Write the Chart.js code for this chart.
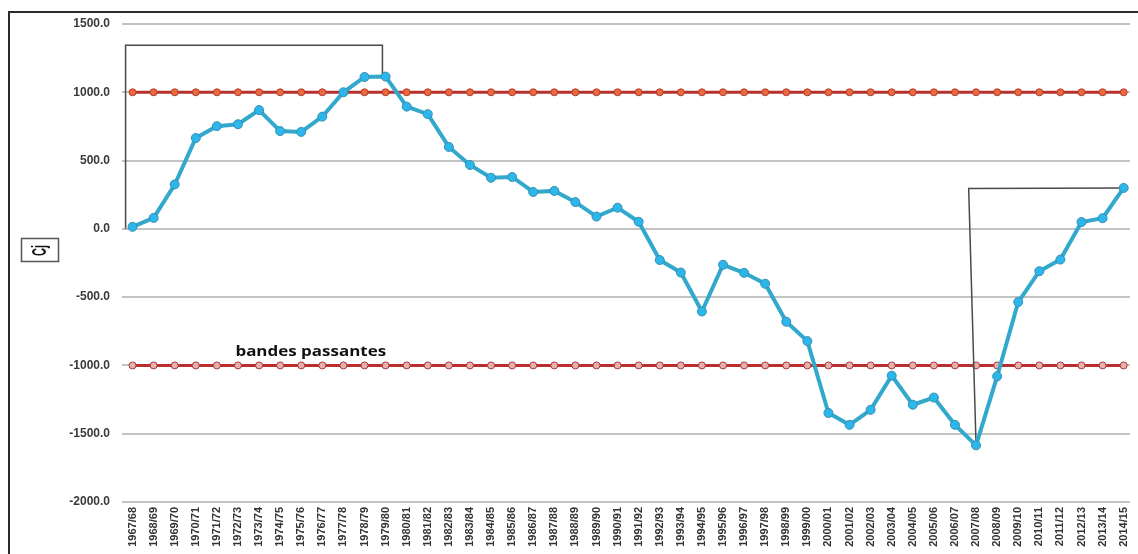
<!DOCTYPE html>
<html>
<head>
<meta charset="utf-8">
<script src="https://cdn.jsdelivr.net/npm/chart.js@4/dist/chart.umd.min.js"></script>
<style>
  html, body { margin: 0; padding: 0; background: #fff; }
  #wrap { width: 1138px; height: 554px; position: relative; }
</style>
</head>
<body>
<div id="wrap"><canvas id="cjChart"></canvas></div>
<script>
// Campagnes (axe des x)
const seasons = [
    '1967/68', '1968/69', '1969/70', '1970/71', '1971/72', '1972/73', '1973/74', '1974/75',
    '1975/76', '1976/77', '1977/78', '1978/79', '1979/80', '1980/81', '1981/82', '1982/83',
    '1983/84', '1984/85', '1985/86', '1986/87', '1987/88', '1988/89', '1989/90', '1990/91',
    '1991/92', '1992/93', '1993/94', '1994/95', '1995/96', '1996/97', '1997/98', '1998/99',
    '1999/00', '2000/01', '2001/02', '2002/03', '2003/04', '2004/05', '2005/06', '2006/07',
    '2007/08', '2008/09', '2009/10', '2010/11', '2011/12', '2012/13', '2013/14', '2014/15'
];

// Cumul Cj
const cjValues = [
    15, 80, 325, 665, 752, 766, 870, 716,
    710, 822, 1000, 1112, 1115, 895, 840, 600,
    468, 374, 380, 270, 278, 196, 90, 155,
    52, -228, -320, -605, -263, -322, -402, -680,
    -822, -1348, -1435, -1325, -1075, -1288, -1235, -1435,
    -1585, -1080, -536, -310, -225, 50, 78, 300
];

// Bandes passantes (+1000 / -1000)
const upperBand = [
    1000, 1000, 1000, 1000, 1000, 1000, 1000, 1000, 1000, 1000, 1000, 1000,
    1000, 1000, 1000, 1000, 1000, 1000, 1000, 1000, 1000, 1000, 1000, 1000,
    1000, 1000, 1000, 1000, 1000, 1000, 1000, 1000, 1000, 1000, 1000, 1000,
    1000, 1000, 1000, 1000, 1000, 1000, 1000, 1000, 1000, 1000, 1000, 1000
];
const lowerBand = [
    -1000, -1000, -1000, -1000, -1000, -1000, -1000, -1000, -1000, -1000, -1000, -1000,
    -1000, -1000, -1000, -1000, -1000, -1000, -1000, -1000, -1000, -1000, -1000, -1000,
    -1000, -1000, -1000, -1000, -1000, -1000, -1000, -1000, -1000, -1000, -1000, -1000,
    -1000, -1000, -1000, -1000, -1000, -1000, -1000, -1000, -1000, -1000, -1000, -1000
];

// Crochets qui encadrent les deux phases (x en index de campagne)
const bracketWetX = [-0.33, -0.33, 11.85, 11.85];
const bracketWetY = [0, 1345, 1345, 1130];
const bracketDryX = [40, 39.65, 47];
const bracketDryY = [-1585, 295, 300];

// Graduations de l'axe des y
const yTicks = [1500, 1000, 500, 0, -500, -1000, -1500, -2000];

const toPoints = (xs, ys) => ys.map((y, i) => ({ x: xs ? xs[i] : i, y: y }));

// Cadre, étiquette "Cj" et texte "bandes passantes"
const decorPlugin = {
    id: 'decor',
    afterDraw(chart) {
        const ctx = chart.ctx;
        const x = chart.scales.x, y = chart.scales.y;
        ctx.save();

        // cadre noir (haut + gauche)
        ctx.strokeStyle = '#2b2b2b';
        ctx.lineWidth = 2;
        ctx.beginPath();
        ctx.moveTo(9, chart.height);
        ctx.lineTo(9, 12);
        ctx.lineTo(chart.width, 12);
        ctx.stroke();

        // boîte de l'axe
        ctx.strokeStyle = '#555';
        ctx.lineWidth = 1.5;
        ctx.strokeRect(21.5, 238.5, 37, 23);
        ctx.translate(40, 250.5);
        ctx.scale(1.9, 1);
        ctx.rotate(-Math.PI / 2);
        ctx.fillStyle = '#111';
        ctx.font = 'bold 11px "Liberation Sans", Arial, sans-serif';
        ctx.textAlign = 'center';
        ctx.textBaseline = 'middle';
        ctx.fillText('Cj', 0, 0);
        ctx.restore();

        ctx.save();
        ctx.fillStyle = '#111';
        ctx.font = 'bold 15px "Open Sans", sans-serif';
        ctx.textAlign = 'center';
        ctx.textBaseline = 'alphabetic';
        ctx.translate(x.getPixelForValue(8.45), y.getPixelForValue(-1000) - 9);
        ctx.scale(1.13, 1);
        ctx.fillText('bandes passantes', 0, 0);
        ctx.restore();
    }
};

const ctx = document.getElementById('cjChart').getContext('2d');
new Chart(ctx, {
    type: 'line',
    data: {
        datasets: [
            {
                label: 'Cj',
                data: toPoints(null, cjValues),
                borderColor: '#32a9cc',
                borderWidth: 4,
                pointRadius: 4.5,
                pointBackgroundColor: '#2bb6ec',
                pointBorderColor: '#3a8eae',
                pointBorderWidth: 1,
                tension: 0
            },
            {
                label: 'crochet 1',
                data: toPoints(bracketWetX, bracketWetY),
                borderColor: '#4a4a4a',
                borderWidth: 1.5,
                pointRadius: 0
            },
            {
                label: 'crochet 2',
                data: toPoints(bracketDryX, bracketDryY),
                borderColor: '#4a4a4a',
                borderWidth: 1.5,
                pointRadius: 0
            },
            {
                label: '+1000',
                data: toPoints(null, upperBand),
                borderColor: '#b8302e',
                borderWidth: 3,
                pointRadius: 3.5,
                pointBackgroundColor: '#ea6a3e',
                pointBorderColor: '#b33a2e',
                pointBorderWidth: 1
            },
            {
                label: '-1000',
                data: toPoints(null, lowerBand),
                borderColor: '#b8302e',
                borderWidth: 3,
                pointRadius: 3.5,
                pointBackgroundColor: '#e8b0aa',
                pointBorderColor: '#a8383a',
                pointBorderWidth: 1
            }
        ]
    },
    options: {
        responsive: true,
        maintainAspectRatio: false,
        animation: false,
        layout: { padding: { top: 24, right: 8, bottom: 0, left: 0 } },
        plugins: {
            legend: { display: false },
            tooltip: { enabled: false }
        },
        scales: {
            x: {
                type: 'linear',
                min: -0.5,
                max: 47.3,
                afterBuildTicks: (scale) => {
                    scale.ticks = seasons.map((_, i) => ({ value: i }));
                },
                afterFit: (scale) => {
                    scale.height = 52;
                    // pas de marge latérale due aux étiquettes tournées
                    scale.paddingLeft = 0;
                    scale.paddingRight = 0;
                },
                grid: { display: false, drawTicks: false },
                border: { display: false },
                ticks: {
                    autoSkip: false,
                    minRotation: 90,
                    maxRotation: 90,
                    padding: 5,
                    color: '#333',
                    font: { family: '"Liberation Sans Narrow", "Liberation Sans", Arial, sans-serif', size: 11, weight: 'bold' },
                    callback: (v) => seasons[v] ?? ''
                }
            },
            y: {
                min: -2000,
                max: 1500,
                afterBuildTicks: (scale) => {
                    scale.ticks = yTicks.map(v => ({ value: v }));
                },
                afterFit: (scale) => { scale.width = 122; },
                grid: { color: '#c3c3c3', lineWidth: 2, drawTicks: false },
                border: { display: false },
                ticks: {
                    padding: 12,
                    color: '#3a3a3a',
                    font: { family: '"Liberation Sans", Arial, sans-serif', size: 12, weight: 'bold' },
                    callback: (v) => v.toFixed(1)
                }
            }
        }
    },
    plugins: [decorPlugin]
});
</script>
</body>
</html>
